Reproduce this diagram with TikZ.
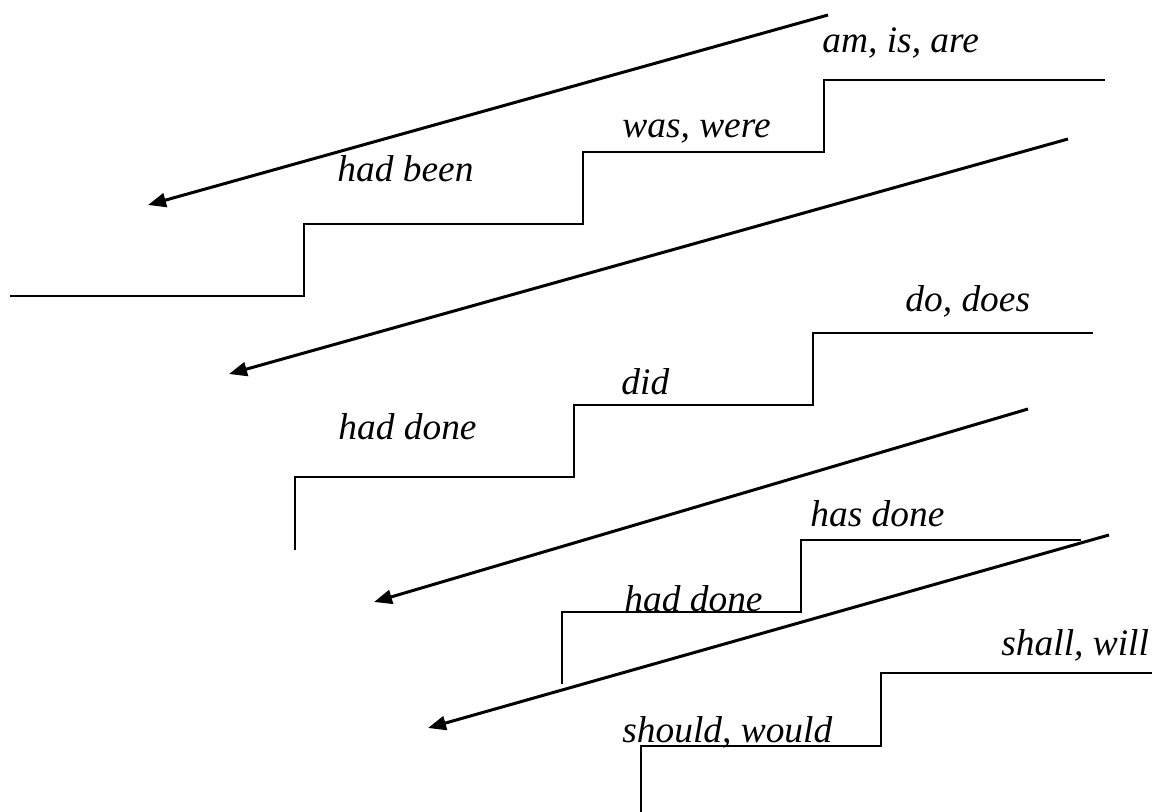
\documentclass[tikz,border=0pt]{standalone}
\usepackage{fontspec}
\setmainfont{Liberation Serif}
\usetikzlibrary{arrows.meta}
\tikzset{
  lbl/.style={inner sep=0pt, anchor=base west, font=\fontsize{18.7}{22}\selectfont\itshape},
  stair/.style={draw=black, line width=1pt, line join=miter},
  tense/.style={draw=black, line width=1.5pt, -{Triangle[length=9pt,width=7pt]}}
}
\begin{document}
\begin{tikzpicture}[x=0.5pt,y=-0.5pt]
\useasboundingbox (0,0) rectangle (1152,812);
% arrows endpoints
\coordinate (a1s) at (828,15);  \coordinate (a1e) at (148,205);
\coordinate (a2s) at (1068,139); \coordinate (a2e) at (229,374);
\coordinate (a3s) at (1028,409); \coordinate (a3e) at (374,602);
\coordinate (a4s) at (1109,535); \coordinate (a4e) at (428,728);
% labels
\node[lbl] (amisare) at (822,53) {am, is, are};
\node[lbl] (waswere) at (622,138) {was, were};
\node[lbl] (hadbeen) at (337,182) {had been};
\node[lbl] (dodoes) at (905,312) {do, does};
\node[lbl] (did) at (621,395) {did};
\node[lbl] (haddoneA) at (338,440) {had done};
\node[lbl] (hasdone) at (810,527) {has done};
\node[lbl] (haddoneB) at (624,611) {had done};
\node[lbl] (shallwill) at (1001,655) {shall, will};
\node[lbl] (shouldwould) at (622,742) {should, would};
% staircases
\draw[stair] (10,296) -- (304,296) -- (304,224) -- (583,224) -- (583,152) -- (824,152) -- (824,80) -- (1105,80);
\draw[stair] (295,550) -- (295,477) -- (574,477) -- (574,405) -- (813,405) -- (813,333) -- (1093,333);
\draw[stair] (562,684) -- (562,612) -- (801,612) -- (801,540) -- (1081,540);
\draw[stair] (641,812) -- (641,746) -- (881,746) -- (881,673) -- (1152,673);
% tense arrows
\draw[tense] (a1s) -- (a1e);
\draw[tense] (a2s) -- (a2e);
\draw[tense] (a3s) -- (a3e);
\draw[tense] (a4s) -- (a4e);
\end{tikzpicture}
\end{document}
